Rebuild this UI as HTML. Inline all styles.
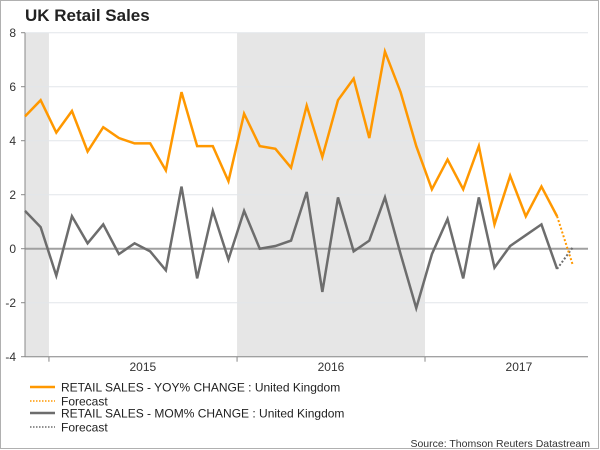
<!DOCTYPE html>
<html><head><meta charset="utf-8"><style>
body{margin:0;background:#fff}
svg{display:block;font-family:"Liberation Sans",Arial,sans-serif}
</style></head><body>
<svg id="chart" width="600" height="450">
<rect x="0.5" y="0.5" width="598" height="448" fill="#fff" stroke="#b0b0b0"/>
<text x="25" y="21" font-size="17" font-weight="bold" fill="#222">UK Retail Sales</text>
<g id="shade"></g><g id="grid"></g><g id="axes"></g><g id="series"></g>
<g font-size="12" fill="#222">
<line x1="30" y1="387" x2="55" y2="387" stroke="#ff9800" stroke-width="2.5"/>
<text x="61" y="391.5">RETAIL SALES - YOY% CHANGE : United Kingdom</text>
<line x1="30" y1="401" x2="55" y2="401" stroke="#ff9800" stroke-width="1.5" stroke-dasharray="1.5,1.5"/>
<text x="61" y="405.5">Forecast</text>
<line x1="30" y1="413" x2="55" y2="413" stroke="#6d6d6d" stroke-width="2.5"/>
<text x="61" y="417.5">RETAIL SALES - MOM% CHANGE : United Kingdom</text>
<line x1="30" y1="427" x2="55" y2="427" stroke="#6d6d6d" stroke-width="1.5" stroke-dasharray="1.5,1.5"/>
<text x="61" y="431.5">Forecast</text>
</g>
<text x="590" y="447" text-anchor="end" font-size="10.5" fill="#333">Source: Thomson Reuters Datastream</text>
</svg>
<script>
const yoy=[4.9,5.5,4.3,5.1,3.6,4.5,4.1,3.9,3.9,2.9,5.8,3.8,3.8,2.5,5.0,3.8,3.7,3.0,5.3,3.4,5.5,6.3,4.1,7.3,5.8,3.8,2.2,3.3,2.2,3.8,0.9,2.7,1.2,2.3,1.2];
const yoyForecast=-0.6;
const mom=[1.4,0.8,-1.0,1.2,0.2,0.9,-0.2,0.2,-0.1,-0.8,2.3,-1.1,1.4,-0.4,1.4,0.0,0.1,0.3,2.1,-1.6,1.9,-0.1,0.3,1.9,-0.2,-2.2,-0.2,1.1,-1.1,1.9,-0.7,0.1,0.5,0.9,-0.75];
const momForecast=0.05;
const yTicks=[-4,-2,0,2,4,6,8];
const years=['2015','2016','2017'];
const yearStart=[1.53,13.55,25.56];
const shadeRanges=[[0,1.53],[13.55,25.56]];
const NS='http://www.w3.org/2000/svg';
const L=25,R=588;
const x=i=>25+i*15.65;
const y=v=>248.7-27*v;
function mk(p,t,a){const e=document.createElementNS(NS,t);for(const k in a)e.setAttribute(k,a[k]);document.getElementById(p).appendChild(e);return e;}
shadeRanges.forEach(r=>{const e=mk('shade','rect',{x:x(r[0]),y:y(8),width:x(r[1])-x(r[0]),height:y(-4)-y(8),fill:'#e6e6e6'});

});
yTicks.forEach(t=>{const g=mk('grid','line',{x1:L,x2:R,y1:y(t),y2:y(t),stroke:t===0?'#a0a0a0':'#e2e6ea','stroke-width':t===0?2:1});


const k=mk('axes','line',{x1:L-4,x2:L,y1:y(t),y2:y(t),stroke:'#888'});


const tx=mk('axes','text',{x:L-9,y:y(t)+4.5,'text-anchor':'end','font-size':12,fill:'#333'});tx.textContent=t;

});
const ya=mk('axes','line',{x1:L,x2:L,y1:y(8),y2:y(-4),stroke:'#888'});


const xa=mk('axes','line',{x1:L,x2:R,y1:y(-4),y2:y(-4),stroke:'#888'});


yearStart.forEach((s,i)=>{const k=mk('axes','line',{x1:x(s),x2:x(s),y1:y(-4),y2:y(-4)+5,stroke:'#888'});


const t=mk('axes','text',{x:x(s+6),y:371,'text-anchor':'middle','font-size':12,fill:'#333'});t.textContent=years[i];

});
function line(vals,fc,col,name){
const pts=vals.map((v,i)=>x(i)+','+y(v)).join(' ');
const p=mk('series','polyline',{points:pts,fill:'none',stroke:col,'stroke-width':2.5,'stroke-linejoin':'miter'});


const n=vals.length-1;
const f=mk('series','line',{x1:x(n),y1:y(vals[n]),x2:x(n+1),y2:y(fc),stroke:col,'stroke-width':2,'stroke-dasharray':'2,2'});

}
line(mom,momForecast,'#6d6d6d','mom');
line(yoy,yoyForecast,'#ff9800','yoy');
</script>
</body></html>
